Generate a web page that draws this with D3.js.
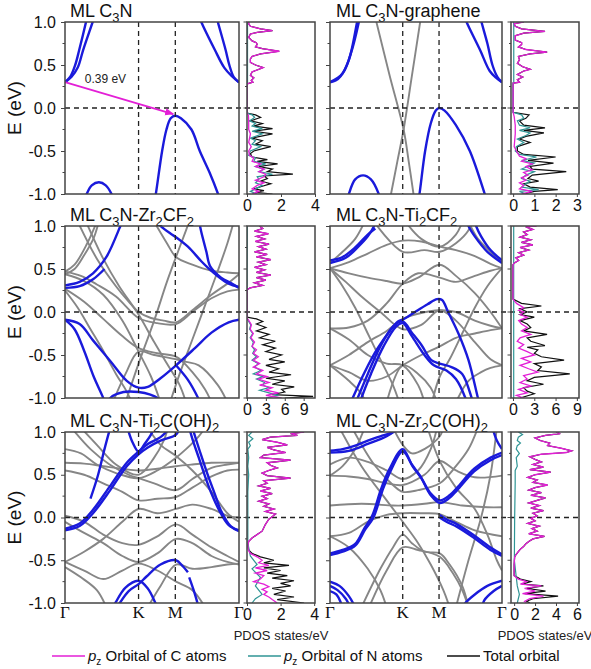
<!DOCTYPE html>
<html><head><meta charset="utf-8">
<script src="https://cdn.jsdelivr.net/npm/d3@7"></script>
<style>body{margin:0;background:#fff}svg{display:block}</style>
</head><body><div id="chart"></div>
<script>
// ---------- axis / label data ----------
const kPoints = [0, 1.155, 1.732, 2.732];
const kLabels = ["Γ", "K", "M", "Γ"];
const eTicks = [-1, -0.5, 0, 0.5, 1];
const eTickLabels = ["-1.0", "-0.5", "0.0", "0.5", "1.0"];
const eMinor = [-0.75, -0.25, 0.25, 0.75];

const titles = [
  ["ML C", ["3"], "N"],
  ["ML C", ["3"], "N-graphene"],
  ["ML C", ["3"], "N-Zr", ["2"], "CF", ["2"]],
  ["ML C", ["3"], "N-Ti", ["2"], "CF", ["2"]],
  ["ML C", ["3"], "N-Ti", ["2"], "C(OH)", ["2"]],
  ["ML C", ["3"], "N-Zr", ["2"], "C(OH)", ["2"]]
];
const pdosDomains = [[0, 4], [-0.1, 3.1], [0, 10.8], [-0.28, 9.3], [0, 4.05], [-0.3, 6.2]];
const pdosTicks = [[0, 2, 4], [0, 1, 2, 3], [0, 3, 6, 9], [0, 3, 6, 9], [0, 2, 4], [0, 2, 4, 6]];
const gapArrow = [[0, 0.30], [1.70, -0.07]];
const gapLabel = "0.39 eV";
const legendLabels = ["Orbital of C atoms", "Orbital of N atoms", "Total orbital"];

// ---------- band data: [k, E] ----------
const p1Blue = [
  [[0,0.30],[0.08,0.36],[0.16,0.50],[0.225,0.68],[0.33,1.0],[0.36,1.1]],
  [[0,0.30],[0.1,0.36],[0.2,0.47],[0.287,0.68],[0.434,1.0],[0.46,1.06]],
  [[2.732,0.30],[2.65,0.36],[2.58,0.50],[2.52,0.68],[2.40,1.0],[2.38,1.06]],
  [[2.732,0.30],[2.62,0.37],[2.50,0.47],[2.35,0.68],[2.14,1.0],[2.11,1.06]],
  [[1.40,-1.1],[1.426,-1.0],[1.525,-0.5],[1.593,-0.25],[1.66,-0.12],[1.732,-0.09],[1.82,-0.12],[1.985,-0.25],[2.116,-0.5],[2.27,-0.75],[2.403,-1.0],[2.43,-1.06]],
  [[0.30,-1.08],[0.34,-1.0],[0.42,-0.9],[0.533,-0.864],[0.64,-0.9],[0.731,-1.0],[0.76,-1.06]]
];
const p1Gray = [];

const p2Blue = [
  [[0,0.30],[0.09,0.32],[0.168,0.37],[0.30,0.56],[0.43,1.0],[0.45,1.08]],
  [[0,0.30],[0.2,0.40],[0.35,0.68],[0.458,1.0],[0.48,1.08]],
  [[2.732,0.30],[2.64,0.35],[2.537,0.43],[2.38,0.68],[2.169,1.0],[2.14,1.06]],
  [[2.732,0.30],[2.66,0.36],[2.58,0.50],[2.50,0.75],[2.406,1.0],[2.39,1.05]],
  [[1.40,-1.08],[1.421,-1.0],[1.511,-0.5],[1.60,-0.18],[1.68,-0.03],[1.732,0.0],[1.82,-0.03],[2.0,-0.2],[2.221,-0.5],[2.458,-1.0],[2.48,-1.05]],
  [[0.27,-1.08],[0.30,-1.0],[0.40,-0.83],[0.526,-0.783],[0.65,-0.83],[0.774,-1.0],[0.80,-1.08]]
];
const p2Gray = [
  [[0.737,1.0],[0.95,0.37],[1.169,-0.25],[1.25,-0.62],[1.326,-1.0]],
  [[1.432,1.0],[1.30,0.37],[1.169,-0.25],[1.07,-0.62],[0.969,-1.0]]
];

const p3Blue = [
  [[0,0.31],[0.23,0.35],[0.44,0.45],[0.65,0.64],[0.87,1.0],[0.9,1.05]],
  [[0,0.28],[0.23,0.30],[0.44,0.38],[0.62,0.50]],
  [[1.45,1.05],[1.50,1.0],[1.66,0.91],[1.743,0.87],[1.93,0.76],[2.14,0.59],[2.25,0.51],[2.41,0.41],[2.57,0.33],[2.732,0.29]],
  [[2.12,1.0],[2.14,0.93],[2.22,0.70],[2.28,0.53],[2.45,0.40],[2.62,0.33],[2.732,0.28]],
  [[0,-0.09],[0.23,-0.14],[0.44,-0.33],[0.71,-0.57],[0.97,-0.80],[1.155,-0.88],[1.30,-0.87],[1.50,-0.77],[1.743,-0.62],[2.04,-0.42],[2.30,-0.24],[2.57,-0.12],[2.732,-0.09]],
  [[0,-0.09],[0.15,-0.20],[0.30,-0.45],[0.45,-0.75],[0.60,-1.0],[0.62,-1.05]],
  [[0.68,-1.05],[0.71,-1.0],[0.92,-0.93],[1.155,-0.93],[1.34,-0.96],[1.45,-1.0],[1.5,-1.05]],
  [[1.743,-0.62],[1.93,-0.79],[2.09,-1.0],[2.12,-1.05]]
];
const p3Gray = [
  [[0.20,1.05],[0.5,0.62],[0.8,0.30],[1.0,0.12],[1.155,0.0],[1.35,-0.07],[1.55,-0.10],[1.743,-0.12],[2.0,0.02],[2.3,0.20],[2.55,0.33],[2.732,0.44]],
  [[0.33,1.05],[0.6,0.62],[0.85,0.30],[1.155,-0.03],[1.4,-0.35],[1.6,-0.6],[1.8,-0.85],[1.9,-1.05]],
  [[0,0.47],[0.25,0.42],[0.5,0.32],[0.8,0.18],[1.155,-0.07],[1.45,-0.13],[1.743,-0.14],[2.0,0.0],[2.3,0.16],[2.55,0.24],[2.732,0.26]],
  [[0,0.27],[0.3,0.12],[0.6,-0.08],[0.9,-0.28],[1.155,-0.42],[1.45,-0.48],[1.743,-0.52],[2.0,-0.7],[2.2,-0.9],[2.3,-1.05]],
  [[0,0.25],[0.2,0.05],[0.4,-0.2],[0.6,-0.45],[0.8,-0.72],[0.95,-0.9],[1.05,-1.05]],
  [[0,0.44],[0.3,0.36],[0.6,0.2],[0.9,-0.1],[1.155,-0.46],[1.35,-0.75],[1.5,-1.05]],
  [[0.95,-1.05],[1.155,-0.60],[1.4,-0.1],[1.6,0.35],[1.743,0.64],[1.9,0.95],[1.95,1.05]],
  [[1.40,1.05],[1.6,0.80],[1.743,0.64],[2.0,0.55],[2.3,0.48],[2.55,0.46],[2.732,0.45]],
  [[1.65,-1.05],[1.8,-0.72],[2.0,-0.32],[2.2,0.08],[2.4,0.48],[2.55,0.80],[2.65,1.05]],
  [[0,0.44],[0.15,0.50],[0.3,0.66],[0.45,0.86],[0.53,1.05]],
  [[0.75,-1.05],[0.95,-0.72],[1.155,-0.46],[1.4,-0.5],[1.743,-0.55],[1.9,-0.58],[2.1,-0.62],[2.4,-0.85],[2.55,-1.05]],
  [[0,0.47],[0.15,0.55],[0.35,0.8],[0.5,1.05]]
];

const p4Blue = [
  [[0.33,-1.05],[0.36,-1.0],[0.55,-0.70],[0.75,-0.43],[0.95,-0.22],[1.08,-0.11],[1.155,-0.09],[1.35,0.0],[1.55,0.09],[1.70,0.15],[1.78,0.14],[1.876,0.0],[2.04,-0.25],[2.2,-0.56],[2.35,-1.0],[2.37,-1.05]],
  [[0.41,-1.05],[0.44,-1.0],[0.6,-0.72],[0.8,-0.40],[1.0,-0.17],[1.155,-0.11],[1.3,-0.24],[1.45,-0.38],[1.61,-0.56],[1.743,-0.60],[1.93,-0.64],[2.1,-0.72],[2.25,-1.0],[2.27,-1.05]],
  [[0.48,-1.05],[0.5,-1.0],[0.65,-0.72],[0.85,-0.40],[1.05,-0.17],[1.155,-0.13],[1.3,-0.28],[1.5,-0.5],[1.65,-0.62],[1.85,-0.68],[2.0,-0.78],[2.15,-1.0],[2.17,-1.05]],
  [[0,0.60],[0.2,0.64],[0.4,0.75],[0.6,0.90],[0.72,0.97]],
  [[0,0.57],[0.25,0.63],[0.45,0.76],[0.6,0.88],[0.7,1.0],[0.72,1.05]],
  [[2.732,0.57],[2.5,0.70],[2.3,0.88],[2.2,1.0],[2.18,1.05]],
  [[2.732,0.60],[2.55,0.72],[2.4,0.88],[2.32,1.0],[2.3,1.05]]
];
const p4Gray = [
  [[0,0.51],[0.3,0.58],[0.6,0.68],[0.9,0.78],[1.155,0.83],[1.45,0.82],[1.743,0.76],[2.0,0.72],[2.3,0.65],[2.55,0.56],[2.732,0.51]],
  [[0.7,1.05],[1.155,0.70],[1.5,0.72],[1.743,0.70],[2.0,0.80],[2.2,0.95],[2.25,1.05]],
  [[0,0.51],[0.3,0.45],[0.6,0.40],[0.9,0.36],[1.155,0.33],[1.4,0.40],[1.743,0.55],[2.0,0.42],[2.3,0.22],[2.55,0.0],[2.732,-0.19]],
  [[0,0.51],[0.25,0.35],[0.5,0.18],[0.8,0.0],[1.155,-0.20],[1.45,-0.15],[1.743,0.02],[2.0,-0.10],[2.3,-0.35],[2.55,-0.55],[2.732,-0.62]],
  [[0,-0.19],[0.3,-0.18],[0.6,-0.10],[0.9,0.10],[1.155,0.33],[1.4,0.45],[1.743,0.40],[2.0,0.35],[2.3,0.42],[2.55,0.48],[2.732,0.51]],
  [[0,-0.62],[0.3,-0.50],[0.6,-0.35],[0.9,-0.22],[1.155,-0.08],[1.4,-0.02],[1.743,0.02],[2.0,0.0],[2.3,-0.10],[2.55,-0.16],[2.732,-0.19]],
  [[0,-0.62],[0.3,-0.70],[0.6,-0.80],[0.9,-0.75],[1.155,-0.62],[1.45,-0.50],[1.743,-0.40],[2.0,-0.30],[2.3,-0.25],[2.55,-0.21],[2.732,-0.19]],
  [[0,-0.62],[0.3,-0.80],[0.5,-0.95],[0.56,-1.05]],
  [[0.9,-1.05],[1.155,-0.62],[1.4,-0.72],[1.6,-0.88],[1.7,-1.05]],
  [[0,0.51],[0.2,0.30],[0.4,0.05],[0.6,-0.25],[0.8,-0.55],[1.0,-0.85],[1.1,-1.05]],
  [[2.732,0.51],[2.5,0.30],[2.3,0.05],[2.1,-0.25],[1.9,-0.55],[1.743,-0.75],[1.62,-1.05]],
  [[1.2,1.05],[1.45,0.85],[1.743,0.76],[2.0,0.90],[2.1,1.05]],
  [[0,0.57],[0.2,0.70],[0.4,0.85],[0.55,1.05]],
  [[2.732,0.57],[2.55,0.70],[2.35,0.85],[2.2,1.05]],
  [[0,-0.19],[0.3,-0.32],[0.6,-0.5],[0.9,-0.6],[1.155,-0.62],[1.4,-0.85],[1.5,-1.05]],
  [[2.0,-1.05],[2.2,-0.8],[2.4,-0.7],[2.55,-0.65],[2.732,-0.62]]
];

const p5Blue = [
  [[0,-0.15],[0.23,-0.10],[0.44,0.05],[0.71,0.32],[0.97,0.60],[1.155,0.74],[1.3,0.82],[1.5,0.90],[1.743,0.97],[1.8,1.05]],
  [[0,-0.13],[0.23,-0.07],[0.44,0.09],[0.71,0.37],[0.97,0.64],[1.155,0.77],[1.3,0.86],[1.5,0.94],[1.65,1.05]],
  [[0.98,1.05],[1.06,0.88],[1.155,0.77],[1.25,0.86],[1.35,0.97],[1.4,1.05]],
  [[1.95,1.05],[2.0,0.92],[2.1,0.70],[2.195,0.49],[2.3,0.28],[2.41,0.10],[2.57,-0.09],[2.732,-0.15]],
  [[2.0,1.05],[2.05,0.93],[2.15,0.70],[2.25,0.48],[2.35,0.28],[2.45,0.08],[2.6,-0.10],[2.732,-0.16]],
  [[0.71,1.05],[0.62,0.8],[0.52,0.5],[0.40,0.22]],
  [[0.75,-1.05],[0.79,-1.0],[0.95,-0.82],[1.155,-0.74],[1.3,-0.83],[1.42,-1.0],[1.45,-1.05]],
  [[0.82,-1.05],[0.86,-1.0],[1.0,-0.86],[1.155,-0.78],[1.28,-0.69],[1.5,-0.55],[1.743,-0.50],[1.85,-0.57],[1.93,-0.64]],
  [[1.95,-0.70],[2.02,-0.85],[2.08,-1.0],[2.1,-1.05]]
];
const p5Gray = [
  [[0,0.64],[0.3,0.63],[0.6,0.60],[0.9,0.57],[1.155,0.55],[1.45,0.57],[1.743,0.60],[2.0,0.62],[2.3,0.64],[2.732,0.64]],
  [[0,0.55],[0.3,0.50],[0.6,0.40],[0.9,0.30],[1.155,0.20],[1.45,0.22],[1.743,0.24],[2.0,0.35],[2.3,0.48],[2.55,0.55],[2.732,0.56]],
  [[0,0.80],[0.25,0.75],[0.5,0.62],[0.8,0.52],[1.155,0.46],[1.45,0.55],[1.743,0.70],[1.9,0.80],[2.1,0.95],[2.2,1.05]],
  [[0.1,1.05],[0.4,0.80],[0.7,0.62],[1.0,0.50],[1.155,0.46],[1.4,0.40],[1.743,0.32],[2.0,0.45],[2.3,0.58],[2.55,0.62],[2.732,0.64]],
  [[0,0.02],[0.3,-0.05],[0.6,-0.2],[0.9,-0.30],[1.155,-0.32],[1.45,-0.22],[1.743,-0.08],[2.0,-0.20],[2.3,-0.35],[2.55,-0.45],[2.732,-0.52]],
  [[0,-0.05],[0.3,-0.18],[0.6,-0.3],[0.9,-0.45],[1.155,-0.52],[1.45,-0.42],[1.743,-0.25],[2.0,-0.3],[2.3,-0.45],[2.55,-0.52],[2.732,-0.55]],
  [[0,-0.52],[0.3,-0.40],[0.6,-0.25],[0.9,-0.05],[1.155,0.10],[1.45,0.05],[1.743,0.10],[2.0,0.15],[2.3,0.10],[2.55,0.02],[2.732,0.0]],
  [[0,-0.52],[0.3,-0.62],[0.6,-0.72],[0.9,-0.62],[1.155,-0.54],[1.45,-0.62],[1.743,-0.75],[2.0,-0.85],[2.2,-1.05]],
  [[0,-0.58],[0.25,-0.7],[0.5,-0.85],[0.65,-1.05]],
  [[1.3,-1.05],[1.5,-0.8],[1.743,-0.55],[2.0,-0.6],[2.3,-0.58],[2.55,-0.55],[2.732,-0.54]],
  [[0.25,1.05],[0.5,0.85],[0.8,0.62],[1.155,0.50],[1.4,0.70],[1.55,0.90],[1.62,1.05]],
  [[1.3,1.05],[1.5,0.85],[1.743,0.72],[2.0,0.55],[2.3,0.30],[2.55,0.05],[2.732,-0.05]]
];

const p6Blue = [
  [[0,0.78],[0.2,0.80],[0.4,0.84],[0.6,0.90],[0.8,0.95],[1.0,1.0],[1.05,1.05]],
  [[0,0.76],[0.3,0.78],[0.6,0.86],[0.9,0.95],[1.1,1.05]],
  [[0,-0.42],[0.2,-0.38],[0.40,-0.31],[0.55,-0.12],[0.67,0.02],[0.81,0.33],[0.94,0.56],[1.155,0.80],[1.3,0.62],[1.43,0.49],[1.59,0.29],[1.743,0.20],[1.9,0.26],[2.02,0.35],[2.29,0.57],[2.55,0.70],[2.732,0.76]],
  [[0,-0.44],[0.2,-0.40],[0.40,-0.33],[0.56,-0.14],[0.69,0.0],[0.83,0.31],[0.96,0.54],[1.155,0.77],[1.32,0.59],[1.45,0.46],[1.6,0.26],[1.743,0.17],[1.9,0.23],[2.02,0.32],[2.29,0.54],[2.55,0.67],[2.732,0.73]],
  [[1.743,0.03],[1.85,-0.02],[2.02,-0.08],[2.29,-0.21],[2.55,-0.35],[2.732,-0.43]],
  [[1.743,0.0],[1.85,-0.05],[2.02,-0.11],[2.29,-0.24],[2.55,-0.38],[2.732,-0.45]],
  [[2.58,1.05],[2.65,0.90],[2.732,0.80]],
  [[0,-0.75],[0.15,-0.80],[0.3,-0.92],[0.4,-1.05]],
  [[0,-0.80],[0.12,-0.85],[0.25,-0.95],[0.32,-1.05]],
  [[0,-0.86],[0.1,-0.90],[0.2,-1.05]],
  [[2.732,-0.74],[2.5,-0.80],[2.3,-0.90],[2.15,-1.0],[2.12,-1.05]],
  [[2.732,-0.80],[2.6,-0.86],[2.45,-0.97],[2.42,-1.05]]
];
const p6Gray = [
  [[0,0.14],[0.5,0.16],[1.0,0.14],[1.155,0.14],[1.5,0.16],[1.743,0.18],[2.1,0.14],[2.5,0.12],[2.732,0.12]],
  [[0,-0.22],[0.3,-0.18],[0.6,-0.05],[0.9,0.03],[1.155,0.05],[1.45,0.05],[1.743,0.04],[2.0,-0.05],[2.3,-0.15],[2.732,-0.22]],
  [[0,0.49],[0.3,0.48],[0.6,0.45],[0.9,0.40],[1.155,0.38],[1.5,0.50],[1.743,0.66],[2.0,0.55],[2.3,0.47],[2.732,0.49]],
  [[0.5,-1.05],[0.8,-0.6],[1.0,-0.35],[1.155,-0.20],[1.3,-0.30],[1.5,-0.40],[1.743,-0.42],[1.9,-0.55],[2.1,-0.8],[2.2,-1.05]],
  [[0.62,-1.05],[0.9,-0.62],[1.155,-0.35],[1.4,-0.38],[1.743,-0.46],[1.95,-0.65],[2.1,-0.85],[2.2,-1.05]],
  [[0.15,1.05],[0.5,0.60],[0.9,0.20],[1.155,-0.05],[1.4,-0.30],[1.6,-0.55],[1.8,-0.85],[1.9,-1.05]],
  [[0.35,1.05],[0.7,0.62],[1.0,0.38],[1.155,0.30],[1.4,0.32],[1.743,0.40],[2.0,0.60],[2.2,0.80],[2.35,1.05]],
  [[1.55,1.05],[1.743,0.66],[2.0,0.35],[2.3,0.10],[2.5,-0.2],[2.65,-0.5],[2.732,-0.62]],
  [[2.0,-1.05],[2.2,-0.5],[2.4,0.0],[2.55,0.5],[2.65,1.05]],
  [[0,-0.22],[0.3,-0.35],[0.6,-0.6],[0.8,-0.85],[0.9,-1.05]],
  [[0,0.62],[0.3,0.70],[0.6,0.65],[0.9,0.55],[1.155,0.45],[1.4,0.55],[1.6,0.80],[1.7,1.05]],
  [[0,0.49],[0.2,0.6],[0.4,0.8],[0.55,1.05]],
  [[1.0,1.05],[1.155,0.85],[1.3,0.75],[1.5,0.8],[1.743,0.95],[1.8,1.05]]
];

// ---------- PDOS data: [E, states/eV] ----------
const p1C = [[-1,0.3],[-0.97,0.7],[-0.94,0.3],[-0.9,0.6],[-0.87,1.0],[-0.84,0.5],[-0.8,1.0],[-0.77,1.1],[-0.74,0.7],[-0.71,1.0],[-0.68,0.5],[-0.65,0.8],[-0.62,0.3],[-0.58,0.4],[-0.55,0.15],[-0.5,0.1],[-0.45,0.25],[-0.4,0.1],[-0.3,0.2],[-0.25,0.1],[-0.15,0.1],[-0.08,0.08],[-0.06,0],[0.28,0],[0.30,0.35],[0.32,0.25],[0.35,0.4],[0.38,0.2],[0.42,0.3],[0.45,0.7],[0.47,0.95],[0.5,0.5],[0.53,0.2],[0.57,0.2],[0.6,0.3],[0.63,0.8],[0.66,1.9],[0.69,0.9],[0.71,0.5],[0.74,0.6],[0.76,0.55],[0.78,0.3],[0.82,0.1],[0.86,0.2],[0.88,0.6],[0.9,1.5],[0.92,0.8],[0.95,0.2],[0.98,0.1],[1,0.1]];
const p1N = [[-1,0.6],[-0.97,0.2],[-0.94,0.5],[-0.9,0.9],[-0.87,0.5],[-0.83,0.7],[-0.8,0.6],[-0.77,1.5],[-0.74,0.7],[-0.71,1.0],[-0.68,0.5],[-0.65,1.1],[-0.62,0.4],[-0.58,0.5],[-0.55,0.1],[-0.5,0.2],[-0.45,0.8],[-0.42,0.3],[-0.38,0.5],[-0.35,0.2],[-0.3,0.9],[-0.27,0.3],[-0.24,0.9],[-0.21,0.3],[-0.18,0.5],[-0.15,0.15],[-0.11,0.45],[-0.08,0.3],[-0.06,0],[0.28,0],[0.3,0.03],[1,0.03]];
const p1TotalVB = [[-1,1.5],[-0.98,0.5],[-0.96,1.0],[-0.94,0.4],[-0.91,0.9],[-0.88,1.4],[-0.85,0.8],[-0.82,1.2],[-0.79,1.0],[-0.77,2.7],[-0.74,1.2],[-0.71,1.5],[-0.68,0.7],[-0.65,1.8],[-0.62,0.6],[-0.6,1.2],[-0.57,0.3],[-0.53,0.2],[-0.5,0.4],[-0.45,1.4],[-0.42,0.5],[-0.38,0.9],[-0.35,0.3],[-0.3,1.5],[-0.27,0.4],[-0.24,1.5],[-0.21,0.4],[-0.18,0.9],[-0.15,0.2],[-0.11,0.8],[-0.08,0.5],[-0.06,0]];

const p2C = [[-1,0.4],[-0.97,0.9],[-0.94,0.3],[-0.9,0.5],[-0.87,0.3],[-0.84,0.6],[-0.81,0.4],[-0.78,0.7],[-0.75,0.5],[-0.72,0.9],[-0.68,0.6],[-0.65,0.9],[-0.62,0.4],[-0.59,0.6],[-0.56,0.3],[-0.52,0.2],[-0.45,0.05],[-0.3,0.1],[-0.2,0.1],[-0.1,0.05],[-0.05,0],[0.29,0],[0.30,0.3],[0.33,0.2],[0.36,0.45],[0.39,0.2],[0.43,0.5],[0.45,0.8],[0.48,0.45],[0.52,0.2],[0.56,0.3],[0.6,0.25],[0.63,0.8],[0.65,1.6],[0.68,0.6],[0.71,0.25],[0.74,0.4],[0.76,0.4],[0.79,0.1],[0.84,0.1],[0.87,0.5],[0.89,1.5],[0.92,0.4],[0.95,0.1],[0.98,0.05],[1,0.5]];
const p2N = [[-1,0.6],[-0.97,0.3],[-0.95,1.2],[-0.92,0.4],[-0.88,0.6],[-0.85,0.8],[-0.82,0.4],[-0.78,0.6],[-0.74,1.0],[-0.71,0.4],[-0.68,0.7],[-0.64,1.0],[-0.61,0.4],[-0.57,1.1],[-0.54,0.3],[-0.5,0.1],[-0.45,0.15],[-0.4,0.5],[-0.36,0.2],[-0.32,0.6],[-0.29,0.8],[-0.26,0.3],[-0.23,0.8],[-0.2,0.3],[-0.15,0.2],[-0.12,0.5],[-0.08,0.4],[-0.05,0],[0.29,0],[0.3,0.03],[1,0.03]];
const p2TotalVB = [[-1,0.5],[-0.97,1.0],[-0.95,2.1],[-0.92,0.8],[-0.88,0.5],[-0.85,1.2],[-0.82,0.7],[-0.78,0.9],[-0.74,2.5],[-0.71,0.9],[-0.68,0.8],[-0.64,1.9],[-0.61,0.7],[-0.57,2.0],[-0.54,0.5],[-0.5,0.2],[-0.45,0.2],[-0.4,0.8],[-0.36,0.3],[-0.33,0.6],[-0.29,1.45],[-0.26,0.5],[-0.23,1.5],[-0.2,0.5],[-0.15,0.3],[-0.12,0.6],[-0.08,0.75],[-0.05,0]];

const p3C = [[-1,5.5],[-0.97,3.0],[-0.94,5.0],[-0.91,3.0],[-0.88,4.0],[-0.85,2.0],[-0.82,3.5],[-0.78,1.8],[-0.75,3.2],[-0.72,1.5],[-0.68,2.5],[-0.64,1.0],[-0.6,2.0],[-0.56,1.0],[-0.52,1.8],[-0.48,1.0],[-0.44,1.5],[-0.4,0.8],[-0.35,1.2],[-0.3,0.6],[-0.25,1.0],[-0.2,0.5],[-0.15,0.7],[-0.1,0.3],[-0.07,0],[0.26,0],[0.28,0.5],[0.31,2.5],[0.34,1.2],[0.37,3.0],[0.40,1.5],[0.43,3.8],[0.46,1.5],[0.49,2.8],[0.52,1.2],[0.55,3.0],[0.58,1.8],[0.61,3.8],[0.64,1.5],[0.67,3.2],[0.70,1.2],[0.73,3.0],[0.76,1.8],[0.79,3.5],[0.82,1.3],[0.85,2.8],[0.88,1.5],[0.91,3.4],[0.94,1.2],[0.97,2.5],[1.0,2.0]];
const p3N = [[-1,3.0],[-0.97,5.0],[-0.94,3.5],[-0.91,2.0],[-0.88,3.5],[-0.85,2.5],[-0.82,2.8],[-0.78,1.5],[-0.75,2.5],[-0.72,1.0],[-0.68,2.2],[-0.64,1.2],[-0.6,1.8],[-0.56,0.8],[-0.52,1.5],[-0.48,0.9],[-0.44,1.2],[-0.4,0.8],[-0.35,1.0],[-0.3,0.5],[-0.25,0.9],[-0.2,0.4],[-0.15,0.6],[-0.1,0.2],[-0.07,0],[0.26,0],[1,0.05]];
const p3TotalVB = [[-1,6],[-0.98,10.5],[-0.96,4],[-0.93,6],[-0.9,5.5],[-0.87,7.5],[-0.84,4],[-0.8,6],[-0.77,3],[-0.73,7],[-0.7,3.5],[-0.66,5],[-0.62,3],[-0.58,6],[-0.55,3.5],[-0.5,5.5],[-0.46,3],[-0.42,4.5],[-0.38,2.5],[-0.34,4.5],[-0.3,2],[-0.26,3.5],[-0.22,1.5],[-0.18,3],[-0.14,1.5],[-0.11,2.5],[-0.08,1.5],[-0.06,0]];

const p4C = [[-1,1.5],[-0.97,0.5],[-0.94,2.0],[-0.9,0.8],[-0.86,2.5],[-0.82,1.0],[-0.78,2.0],[-0.74,1.5],[-0.7,3.5],[-0.66,2.2],[-0.62,1.0],[-0.58,2.5],[-0.54,1.2],[-0.5,3.0],[-0.46,2.0],[-0.42,0.8],[-0.38,1.5],[-0.34,0.6],[-0.3,1.0],[-0.26,2.5],[-0.22,1.2],[-0.18,2.0],[-0.14,1.2],[-0.1,0.8],[-0.06,2.0],[-0.03,1.0],[0.0,1.5],[0.02,0.8],[0.05,1.5],[0.1,0.5],[0.15,0],[0.55,0],[0.57,0.2],[0.6,0.8],[0.63,0.4],[0.66,1.5],[0.69,0.8],[0.72,2.2],[0.75,1.0],[0.78,2.8],[0.81,1.2],[0.84,2.5],[0.87,1.0],[0.9,2.0],[0.93,1.5],[0.96,2.8],[0.99,1.8],[1,3.3]];
const p4N = [[-1,0.1],[1,0.1]];
const p4TotalVB = [[-1,1.0],[-0.95,3.0],[-0.92,2.0],[-0.88,1.5],[-0.84,4.3],[-0.8,2.0],[-0.76,3.0],[-0.72,8.0],[-0.68,3.5],[-0.64,4.0],[-0.6,3.0],[-0.56,7.2],[-0.52,4.0],[-0.48,3.0],[-0.44,3.5],[-0.41,2.0],[-0.39,4.5],[-0.34,2.5],[-0.3,2.0],[-0.26,4.8],[-0.22,1.5],[-0.18,2.5],[-0.14,2.0],[-0.1,1.0],[-0.06,3.0],[-0.03,1.0],[0.0,2.0],[0.04,1.0],[0.07,4.0],[0.1,1.2],[0.15,0]];

const p5C = [[-1.0,1.8],[-0.96,1.5],[-0.93,1.3],[-0.9,1.0],[-0.87,1.2],[-0.84,0.9],[-0.81,1.3],[-0.78,1.0],[-0.75,0.4],[-0.72,0.8],[-0.68,1.0],[-0.65,0.5],[-0.62,1.2],[-0.59,0.5],[-0.56,1.3],[-0.53,0.7],[-0.5,0.9],[-0.46,0.6],[-0.42,0.2],[-0.38,0.08],[-0.33,0.05],[-0.28,0.1],[-0.24,0.3],[-0.2,0.6],[-0.16,0.9],[-0.12,1.0],[-0.08,1.1],[-0.05,1.2],[-0.02,1.3],[0.01,1.5],[0.04,1.7],[0.07,1.1],[0.1,1.6],[0.13,1.0],[0.16,1.3],[0.19,0.7],[0.22,1.2],[0.25,0.9],[0.28,1.5],[0.31,0.8],[0.34,1.4],[0.37,0.7],[0.4,1.2],[0.43,1.0],[0.46,2.6],[0.49,1.2],[0.52,0.9],[0.55,1.3],[0.58,1.8],[0.61,1.4],[0.64,1.2],[0.67,2.6],[0.7,0.8],[0.73,1.0],[0.76,2.3],[0.79,1.6],[0.82,1.2],[0.85,2.4],[0.88,1.8],[0.91,0.9],[0.94,1.4],[0.96,3.0],[0.98,2.6],[1.0,3.4]];
const p5N = [[-1,0.3],[-0.95,0.5],[-0.9,0.9],[-0.8,0.5],[-0.7,0.8],[-0.6,0.3],[-0.55,0.6],[-0.45,0.2],[-0.3,0.05],[0,0.05],[0.3,0.05],[0.5,0.1],[0.6,0.05],[0.7,0.1],[0.8,0.05],[0.84,0.2],[0.88,0.1],[0.92,0.35],[0.96,0.1],[1,0.3]];
const p5TotalVB = [[-1.0,3.4],[-0.96,1.8],[-0.93,2.8],[-0.9,1.6],[-0.86,2.3],[-0.83,1.5],[-0.8,2.6],[-0.77,2.0],[-0.74,2.8],[-0.71,1.5],[-0.68,2.4],[-0.65,1.2],[-0.62,2.0],[-0.59,1.0],[-0.56,2.5],[-0.53,1.0],[-0.5,1.6],[-0.46,0.8],[-0.42,0.3],[-0.38,0.1]];

const p6C = [[-1.0,1.2],[-0.98,1.0],[-0.95,1.5],[-0.92,2.8],[-0.89,0.8],[-0.86,2.0],[-0.83,1.0],[-0.8,2.6],[-0.78,0.6],[-0.75,1.2],[-0.72,0.4],[-0.68,0.0],[-0.55,0.0],[-0.46,0.05],[-0.43,0.2],[-0.4,0.4],[-0.37,0.6],[-0.34,0.9],[-0.31,1.1],[-0.28,1.4],[-0.25,1.8],[-0.22,2.9],[-0.19,1.4],[-0.16,2.2],[-0.13,1.7],[-0.1,2.4],[-0.07,1.3],[-0.04,2.0],[-0.01,1.6],[0.02,2.2],[0.05,1.8],[0.08,2.8],[0.11,1.6],[0.14,2.4],[0.17,1.4],[0.2,2.2],[0.23,3.0],[0.26,1.6],[0.29,2.6],[0.32,1.4],[0.35,2.0],[0.38,3.2],[0.41,1.8],[0.44,2.2],[0.47,1.3],[0.5,2.0],[0.53,3.5],[0.56,1.5],[0.59,2.8],[0.62,1.8],[0.65,2.6],[0.68,2.0],[0.71,1.5],[0.74,2.6],[0.76,5.0],[0.78,5.5],[0.81,4.5],[0.84,3.2],[0.87,3.4],[0.9,2.5],[0.93,2.0],[0.96,3.0],[0.98,4.4],[1.0,4.0]];
const p6N = [[-1,0.3],[-0.9,0.5],[-0.8,0.3],[-0.5,0.02],[0.0,0.05],[0.4,0.1],[0.55,0.1],[0.6,0.3],[0.7,0.2],[0.75,0.5],[0.8,0.2],[0.84,0.3],[0.87,0.6],[0.9,0.3],[0.94,0.4],[0.97,0.8],[1,0.4]];
const p6TotalVB = [[-1,1.5],[-0.98,1.2],[-0.95,1.8],[-0.92,4.2],[-0.89,1.0],[-0.86,3.0],[-0.83,1.2],[-0.8,2.8],[-0.78,0.8],[-0.75,1.6],[-0.72,0.6],[-0.68,0]];

const bandsBlue = [p1Blue, p2Blue, p3Blue, p4Blue, p5Blue, p6Blue];
const bandsGray = [p1Gray, p2Gray, p3Gray, p4Gray, p5Gray, p6Gray];
const pdosC = [p1C, p2C, p3C, p4C, p5C, p6C];
const pdosN = [p1N, p2N, p3N, p4N, p5N, p6N];
const pdosT = [
  p1TotalVB.concat(p1C.filter(d => d[0] > 0.2)),
  p2TotalVB.concat(p2C.filter(d => d[0] > 0.2)),
  p3TotalVB.concat(p3C.filter(d => d[0] > 0.2)),
  p4C.filter(d => d[0] > 0.5).concat(p4TotalVB),
  p5TotalVB.concat(p5C.filter(d => d[0] > -0.36)),
  p6TotalVB.concat(p6C.filter(d => d[0] > -0.66))
];

// ---------- layout ----------
const W = 591, H = 669;
const colX = [{b: [65, 239], p: [247, 315]}, {b: [330, 502], p: [511, 579]}];
const rowY = [[22, 194], [226, 398], [432, 603]];
const BLUE = "#1a1adb", GRAY = "#868686", MAG = "#e31fd6", TEAL = "#2f9595", BLK = "#111";
const FONT = "'Liberation Sans', Arial, Helvetica, sans-serif";

const svg = d3.select("#chart").append("svg").attr("width", W).attr("height", H)
  .style("font-family", FONT);
const defs = svg.append("defs");
defs.append("marker").attr("id", "arr").attr("viewBox", "0 0 10 10").attr("refX", 9).attr("refY", 5)
  .attr("markerWidth", 5).attr("markerHeight", 5).attr("orient", "auto")
  .append("path").attr("d", "M0,1 L10,5 L0,9 z").attr("fill", MAG);

function rich(sel, parts, size) {
  let shifted = false;
  parts.forEach(p => {
    if (Array.isArray(p)) {
      sel.append("tspan").attr("dy", size * 0.3).attr("font-size", size * 0.72).text(p[0]);
      shifted = true;
    } else {
      const t = sel.append("tspan").text(p);
      if (shifted) { t.attr("dy", -size * 0.3); shifted = false; }
    }
  });
}

for (let i = 0; i < 6; i++) {
  const col = i % 2, row = Math.floor(i / 2);
  const [bx0, bx1] = colX[col].b, [px0, px1] = colX[col].p, [y0, y1] = rowY[row];
  const x = d3.scaleLinear().domain([0, 2.732]).range([bx0, bx1]);
  const y = d3.scaleLinear().domain([-1, 1]).range([y1, y0]);
  const xp = d3.scaleLinear().domain(pdosDomains[i]).range([px0, px1]);
  const g = svg.append("g");

  defs.append("clipPath").attr("id", "cb" + i).append("rect")
    .attr("x", bx0).attr("y", y0).attr("width", bx1 - bx0).attr("height", y1 - y0);
  defs.append("clipPath").attr("id", "cp" + i).append("rect")
    .attr("x", px0).attr("y", y0).attr("width", px1 - px0).attr("height", y1 - y0);

  // title
  rich(g.append("text").attr("x", bx0 + (col ? 6 : 5)).attr("y", y0 - 5).attr("font-size", 18).attr("fill", "#111"), titles[i], 18);

  // bands
  const bandLine = d3.line().x(d => x(d[0])).y(d => y(d[1])).curve(d3.curveCatmullRom.alpha(0.5));
  const bg = g.append("g").attr("clip-path", `url(#cb${i})`);
  bg.selectAll("path.gray").data(bandsGray[i]).join("path").attr("class", "gray")
    .attr("d", bandLine).attr("fill", "none").attr("stroke", GRAY).attr("stroke-width", 1.9);
  bg.selectAll("path.blue").data(bandsBlue[i]).join("path").attr("class", "blue")
    .attr("d", bandLine).attr("fill", "none").attr("stroke", BLUE).attr("stroke-width", 2.4);

  // dashed lines
  [kPoints[1], kPoints[2]].forEach(k => {
    g.append("line").attr("x1", x(k)).attr("x2", x(k)).attr("y1", y0).attr("y2", y1)
      .attr("stroke", "#222").attr("stroke-width", 1.3).attr("stroke-dasharray", "5,4");
  });
  g.append("line").attr("x1", bx0).attr("x2", px1).attr("y1", y(0)).attr("y2", y(0))
    .attr("stroke", "#222").attr("stroke-width", 1.3).attr("stroke-dasharray", "5,4");

  // arrow (panel 1)
  if (i === 0) {
    g.append("line").attr("x1", x(gapArrow[0][0])).attr("y1", y(gapArrow[0][1]))
      .attr("x2", x(gapArrow[1][0])).attr("y2", y(gapArrow[1][1]))
      .attr("stroke", MAG).attr("stroke-width", 1.8).attr("marker-end", "url(#arr)");
    g.append("text").attr("x", x(0.31)).attr("y", y(0.285)).attr("font-size", 12).attr("fill", "#222").text(gapLabel);
  }

  // PDOS
  const pdosLine = d3.line().x(d => xp(d[1])).y(d => y(d[0]));
  const sortE = a => a.slice().sort((p, q) => p[0] - q[0]);
  const pg = g.append("g").attr("clip-path", `url(#cp${i})`);
  pg.append("path").attr("d", pdosLine(sortE(pdosT[i]))).attr("fill", "none").attr("stroke", BLK).attr("stroke-width", 1.2);
  pg.append("path").attr("d", pdosLine(sortE(pdosN[i]))).attr("fill", "none").attr("stroke", TEAL).attr("stroke-width", 1.2);
  pg.append("path").attr("d", pdosLine(sortE(pdosC[i]))).attr("fill", "none").attr("stroke", MAG).attr("stroke-width", 1.3);

  // frames
  [[bx0, bx1], [px0, px1]].forEach(([a, b]) => {
    g.append("rect").attr("x", a).attr("y", y0).attr("width", b - a).attr("height", y1 - y0)
      .attr("fill", "none").attr("stroke", "#444").attr("stroke-width", 1.5);
  });

  // left axis ticks on band panel
  const ax = d3.axisLeft(y).tickValues(eTicks).tickSize(4).tickPadding(5)
    .tickFormat((d, j) => col === 0 ? eTickLabels[j] : "");
  const axG = g.append("g").attr("transform", `translate(${bx0},0)`).call(ax);
  axG.select(".domain").remove();
  axG.selectAll("line").attr("stroke", "#444");
  axG.selectAll("text").attr("font-size", 16).attr("font-family", FONT).attr("fill", "#111");
  eMinor.forEach(e => {
    g.append("line").attr("x1", bx0 - 2.5).attr("x2", bx0).attr("y1", y(e)).attr("y2", y(e)).attr("stroke", "#444");
  });
  // PDOS left ticks
  eTicks.concat(eMinor).forEach(e => {
    g.append("line").attr("x1", px0 - (eTicks.includes(e) ? 3.5 : 2)).attr("x2", px0)
      .attr("y1", y(e)).attr("y2", y(e)).attr("stroke", "#444");
  });

  // PDOS bottom axis
  const pax = d3.axisBottom(xp).tickValues(pdosTicks[i]).tickSize(3).tickPadding(3).tickFormat(d3.format("d"));
  const paxG = g.append("g").attr("transform", `translate(0,${y1})`).call(pax);
  paxG.select(".domain").remove();
  paxG.selectAll("line").attr("stroke", "#444");
  paxG.selectAll("text").attr("font-size", 16).attr("font-family", FONT).attr("fill", "#111");

  // y label
  if (col === 0) {
    g.append("text").attr("transform", `translate(21,${(y0 + y1) / 2}) rotate(-90)`)
      .attr("text-anchor", "middle").attr("font-size", 19).attr("fill", "#111").text("E (eV)");
  }

  // bottom row: k labels and PDOS label
  if (row === 2) {
    kPoints.forEach((k, j) => {
      g.append("text").attr("x", x(k)).attr("y", y1 + 15).attr("text-anchor", "middle")
        .attr("font-family", "'Liberation Serif', 'Times New Roman', serif").attr("font-size", 17)
        .attr("fill", "#111").text(kLabels[j]);
    });
    g.append("text").attr("x", (px0 + px1) / 2).attr("y", y1 + 37).attr("text-anchor", "middle")
      .attr("font-size", 13).attr("fill", "#222").text("PDOS states/eV");
  }
}

// ---------- legend ----------
const legendColors = [MAG, TEAL, BLK];
const legendX = [52, 248, 447];
const legY = 656;
legendLabels.forEach((lab, j) => {
  const lg = svg.append("g");
  lg.append("line").attr("x1", legendX[j]).attr("x2", legendX[j] + 33).attr("y1", legY).attr("y2", legY)
    .attr("stroke", legendColors[j]).attr("stroke-width", 1.6);
  const t = lg.append("text").attr("x", legendX[j] + 36).attr("y", legY + 5).attr("font-size", 15).attr("fill", "#111");
  if (j < 2) {
    t.append("tspan").attr("font-style", "italic").text("p");
    t.append("tspan").attr("dy", 4).attr("font-size", 10).text("z");
    t.append("tspan").attr("dy", -4).text(" " + lab);
  } else {
    t.text(lab);
  }
});
</script>
</body></html>
